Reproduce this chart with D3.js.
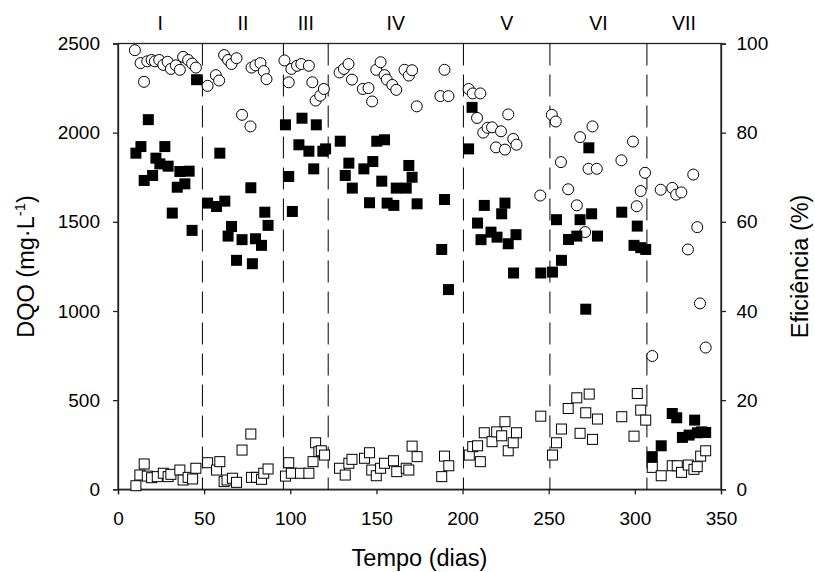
<!DOCTYPE html>
<html><head><meta charset="utf-8">
<script src="https://cdn.jsdelivr.net/npm/d3@7"></script>
<style>body{margin:0;background:#fff}svg{display:block}text{font-family:"Liberation Sans",Arial,sans-serif}</style>
</head><body><svg id="c" width="815" height="572"></svg>
<script>
const phaseLabels = ["I","II","III","IV","V","VI","VII"];
const phaseBounds = [0,49,96,122,200.5,250.7,307,350];
const xTicks = [0,50,100,150,200,250,300,350];
const yLeftTicks = [0,500,1000,1500,2000,2500];
const yRightTicks = [0,20,40,60,80,100];

// DQO afluente (filled squares) [dia, mg/L]
const dqoIn = [[10.4,1885],[13.3,1922],[15.2,1732],[17.6,2073],[20.1,1760],[22,1857],[24.3,1825],[27.2,1922],[29.1,1812],[31.5,1549],[34.4,1694],[35.9,1782],[38.8,1713],[41.3,1784],[43,1452],[45.6,2297],
[52,1605],[57.2,1586],[59.1,1885],[62,1616],[63.9,1420],[65.9,1474],[68.8,1284],[72,1400],[77.1,1691],[78,1265],[79.8,1405],[83.3,1368],[85.2,1554],[87.1,1480],
[97.2,2044],[99.1,1754],[101.2,1558],[105,1932],[106.8,2081],[110.8,1896],[113.6,1797],[115.1,2044],[118.9,1896],[120.5,1909],
[129,1952],[131.9,1760],[134,1829],[136,1689],[142.7,1797],[146,1607],[147.9,1838],[150.2,1952],[153.1,1728],[154.7,1960],[156.2,1605],[160.1,1592],[161.5,1689],[167.3,1689],[168.8,1816],[170.7,1750],[173.6,1601],[187.9,1345],[189.5,1625],[191.8,1120],
[203.5,1909],[205.5,2142],[208.7,1493],[210.7,1400],[212.6,1592],[216.5,1442],[220,1414],[222.7,1545],[224.6,1605],[226.5,1377],[229.6,1213],[231,1428],[245.4,1213],
[252.2,1218],[254.5,1512],[257.4,1284],[261.5,1401],[266.3,1420],[268.2,1512],[271.5,1010],[273.3,1915],[274.9,1545],[278.3,1420],[292.4,1554],[299.5,1368],[301.4,1476],[303.4,1355],[306.3,1345],
[310.1,183],[315.3,244],[321.7,425],[324.3,401],[327.6,291],[331.5,304],[334.7,388],[336.3,317],[338.8,322],[341.1,319]];

// DQO efluente (open squares) [dia, mg/L]
const dqoOut = [[10.4,20],[12.7,80],[15.2,142],[17,74],[19.5,65],[22.8,71],[26.3,90],[29.1,71],[30.7,84],[35.9,108],[37.8,52],[40.7,67],[43.3,58],[45.2,118],
[52,149],[57.2,108],[59.1,155],[61.6,43],[63.3,52],[66.4,62],[68.8,39],[72,220],[77.1,310],[77.5,67],[80.4,67],[83.3,56],[84.6,90],[87.1,114],
[97.2,74],[99.1,149],[100.6,90],[105.9,90],[110.8,90],[113.2,155],[114.7,261],[116.6,211],[118,216],[119.9,192],
[128.6,118],[131.9,80],[134,146],[135.8,168],[143.1,174],[146,205],[147.3,108],[149.9,76],[152.4,118],[154.7,146],[159.9,160],[161.8,99],[167.3,118],[168.8,108],[170.7,242],[173.6,183],[187.9,71],[189.5,186],[192,132],
[203.9,192],[205.9,239],[208.7,244],[210.3,155],[212.6,317],[217.1,267],[219.8,322],[222.7,300],[224.6,379],[226.5,216],[229.4,261],[231.3,317],[245.4,410],
[252.2,192],[254.5,261],[257.4,338],[261.3,453],[266.3,513],[268.2,314],[271.5,429],[273.5,534],[275.4,280],[278.3,394],[292.4,407],[299.5,298],[301.4,537],[303.4,444],[306.3,388],
[310.1,123],[315.3,76],[321.7,132],[324.6,132],[327.1,95],[331,136],[334.3,112],[336.2,127],[338.2,186],[341.1,216]];

// Eficiência (open circles) [dia, %]
const eff = [[9.8,98.5],[13.1,95.6],[15.1,91.4],[17,96],[19.5,96.3],[21.4,96],[23.9,96.3],[26.3,95.2],[28.8,95.9],[30.7,94.3],[33.6,95.1],[35.9,94.1],[37.8,97],[40.7,96.3],[43,95.5],[45.2,94.6],
[52,90.5],[56.8,92.9],[58.7,91.7],[61.6,97.4],[63.9,96.3],[65.9,95.4],[68.8,96.7],[72,84],[76.9,81.4],[77.5,94.6],[79.8,95.1],[82.7,95.6],[84.6,93.8],[86.2,92],
[96.6,96.2],[99.1,91.3],[100.6,94.3],[103.9,95],[106.4,95.4],[110.8,95],[112.8,91.3],[114.7,87.2],[117.4,88.3],[119.5,89.8],
[128.6,93.5],[131.1,94.3],[133.8,95.4],[135.8,91.9],[142.1,89.8],[145.4,90],[147.5,87],[149.9,94.1],[152.4,95.8],[154.7,92.9],[156,91.9],[159.2,90.7],[161.5,89.6],[166.3,94.1],[168.8,92.8],[170.7,94],[173.4,85.9],[187.1,88.2],[189.5,94.1],[191.8,88.2],
[203.5,89.8],[205.9,88.8],[208.4,83.3],[210.3,88.8],[212,80],[214.5,81.1],[217.1,81.2],[219.4,76.7],[222.3,80.3],[224.6,76.2],[226.5,84.1],[229.4,78.6],[231.3,77.3],[245.1,65.9],
[251.8,84],[254.1,82.5],[257.1,73.4],[261.3,67.3],[266.3,63.7],[268.2,79],[271.1,57.7],[273.1,71.9],[275.4,81.4],[277.9,71.9],[292.2,73.8],[298.9,78],[301.1,63.5],[303.4,66.9],[305.9,71],
[310.1,29.9],[315,67.2],[321.7,67.6],[324,66.1],[327,66.6],[330.8,53.8],[333.9,70.6],[336.2,58.8],[337.8,41.7],[341.1,31.8]];

const L=118, R=721, T=43.5, B=489.3;
const svg = d3.select("#c");
const x = d3.scaleLinear().domain([0,350]).range([L,R]);
const yL = d3.scaleLinear().domain([0,2500]).range([B,T]);
const yR = d3.scaleLinear().domain([0,100]).range([B,T]);
const FONT = '"Liberation Sans",Arial,sans-serif';

// frame
svg.append("rect").attr("x",L).attr("y",T).attr("width",R-L).attr("height",B-T)
  .attr("fill","none").attr("stroke","#222").attr("stroke-width",1.3);

// phase separators
svg.append("g").selectAll("line").data(phaseBounds.slice(1,-1)).join("line")
  .attr("x1",d=>x(d)).attr("x2",d=>x(d)).attr("y1",T).attr("y2",B)
  .attr("stroke","#000").attr("stroke-width",1).attr("stroke-dasharray","22,9");

// phase labels
svg.append("g").selectAll("text").data(phaseLabels).join("text")
  .attr("x",(d,i)=>x((phaseBounds[i]+phaseBounds[i+1])/2)).attr("y",30)
  .attr("text-anchor","middle").attr("font-size",19.5).text(d=>d);

function styleAxis(g){
  g.select(".domain").attr("stroke","#222").attr("stroke-width",1.3);
  g.selectAll(".tick line").attr("stroke","#222").attr("stroke-width",1.3);
  g.selectAll(".tick text").attr("font-size",19).attr("fill","#000").attr("font-family",FONT);
}
const fmt = d3.format("d");
svg.append("g").attr("transform",`translate(0,${B})`)
  .call(d3.axisBottom(x).tickValues(xTicks).tickFormat(fmt).tickSizeOuter(0).tickSize(5).tickPadding(17))
  .call(styleAxis);
svg.append("g").attr("transform",`translate(${L},0)`)
  .call(d3.axisLeft(yL).tickValues(yLeftTicks).tickFormat(fmt).tickSizeOuter(0).tickSize(5).tickPadding(13))
  .call(styleAxis);
svg.append("g").attr("transform",`translate(${R},0)`)
  .call(d3.axisRight(yR).tickValues(yRightTicks).tickFormat(fmt).tickSizeOuter(0).tickSize(5).tickPadding(10.5))
  .call(styleAxis);

// markers
svg.append("g").selectAll("circle").data(eff).join("circle")
  .attr("cx",d=>x(d[0])).attr("cy",d=>yR(d[1])).attr("r",5.5)
  .attr("fill","#fff").attr("stroke","#000").attr("stroke-width",1);
const so=10;
svg.append("g").selectAll("rect").data(dqoOut).join("rect")
  .attr("x",d=>x(d[0])-so/2).attr("y",d=>yL(d[1])-so/2).attr("width",so).attr("height",so)
  .attr("fill","#fff").attr("stroke","#000").attr("stroke-width",1);
const sf=11;
svg.append("g").selectAll("rect").data(dqoIn).join("rect")
  .attr("x",d=>x(d[0])-sf/2).attr("y",d=>yL(d[1])-sf/2).attr("width",sf).attr("height",sf)
  .attr("fill","#000");

// titles
svg.append("text").attr("x",(L+R)/2).attr("y",566).attr("text-anchor","middle")
  .attr("font-size",23.5).text("Tempo (dias)");
const yt = svg.append("text").attr("transform",`translate(34,${(T+B)/2}) rotate(-90)`)
  .attr("text-anchor","middle").attr("font-size",23.5);
yt.append("tspan").text("DQO (mg·L");
yt.append("tspan").attr("font-size",15).attr("dy",-9).text("-1");
yt.append("tspan").attr("dy",9).text(")");
svg.append("text").attr("transform",`translate(808,${(T+B)/2}) rotate(-90)`)
  .attr("text-anchor","middle").attr("font-size",23.5).text("Eficiência (%)");
</script></body></html>
